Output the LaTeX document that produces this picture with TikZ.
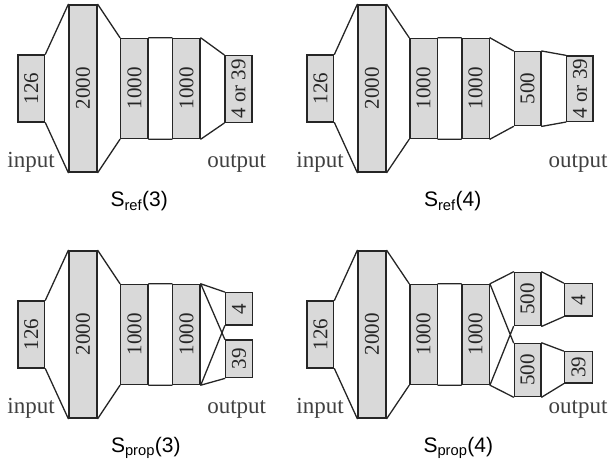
\documentclass[tikz,border=0pt]{standalone}
\usepackage{fontspec}
\setmainfont{Liberation Serif}
\newfontfamily\capfont{Liberation Sans}
\begin{document}
\begin{tikzpicture}[x=1pt,y=-1pt,
  layer/.style={draw=black!85, fill=gray!30, line width=1.4pt, inner sep=0pt, text=black!85, font=\fontsize{21}{21}\selectfont},
  sz/.style 2 args={minimum width=#1, minimum height=#2},
  conn/.style={draw=black!85, line width=1.3pt, line cap=round},
  lbl/.style={anchor=base, inner sep=0pt, text=black!75, font=\fontsize{23}{23}\selectfont},
  captxt/.style={anchor=base, inner sep=0pt, text=black, font=\capfont\fontsize{21}{21}\selectfont}]
\useasboundingbox (0,0) rectangle (611,462);

% ---------- Panel 1: S_ref(3)
\node[layer, sz={26.7}{67}]   (a0) at (31.3,88.5)  {\rotatebox{90}{126}};
\node[layer, sz={28}{167}]    (a1) at (83,88.5)    {\rotatebox{90}{2000}};
\node[layer, sz={27.3}{100}]  (a2) at (134.4,88.5) {\rotatebox{90}{1000}};
\node[layer, sz={27.3}{100}]  (a3) at (186.4,88.5) {\rotatebox{90}{1000}};
\node[layer, sz={27}{66.7}]   (a4) at (238.5,89)   {\rotatebox{90}{4 or 39}};
\draw[conn] (a0.north east) -- (a1.north west) (a0.south east) -- (a1.south west)
            (a1.north east) -- (a2.north west) (a1.south east) -- (a2.south west)
            (a2.north east) -- (a3.north west) (a2.south east) -- (a3.south west)
            (a3.north east) -- (a4.north west) (a3.south east) -- (a4.south west);
\node[lbl] (ain)  at (31,168)    {input};
\node[lbl] (aout) at (236.7,168) {output};
\node[captxt] (acap) at (139.2,206.7) {S\textsubscript{ref}(3)};

% ---------- Panel 2: S_ref(4)
\node[layer, sz={26.7}{67}]   (b0) at (320.4,88.5) {\rotatebox{90}{126}};
\node[layer, sz={28}{167}]    (b1) at (372,88.5)   {\rotatebox{90}{2000}};
\node[layer, sz={27.3}{100}]  (b2) at (423.6,88.5) {\rotatebox{90}{1000}};
\node[layer, sz={27.3}{100}]  (b3) at (475.6,88.5) {\rotatebox{90}{1000}};
\node[layer, sz={26.7}{74}]   (b4) at (527.6,88.7) {\rotatebox{90}{500}};
\node[layer, sz={26.5}{65.3}] (b5) at (579.9,88.7) {\rotatebox{90}{4 or 39}};
\draw[conn] (b0.north east) -- (b1.north west) (b0.south east) -- (b1.south west)
            (b1.north east) -- (b2.north west) (b1.south east) -- (b2.south west)
            (b2.north east) -- (b3.north west) (b2.south east) -- (b3.south west)
            (b3.north east) -- (b4.north west) (b3.south east) -- (b4.south west)
            (b4.north east) -- (b5.north west) (b4.south east) -- (b5.south west);
\node[lbl] (bin)  at (320,168) {input};
\node[lbl] (bout) at (578,168) {output};
\node[captxt] (bcap) at (452.7,206.7) {S\textsubscript{ref}(4)};

% ---------- Panel 3: S_prop(3)
\node[layer, sz={26.7}{67}]   (c0) at (31.3,334.5)  {\rotatebox{90}{126}};
\node[layer, sz={28}{167}]    (c1) at (83,334.5)    {\rotatebox{90}{2000}};
\node[layer, sz={27.3}{100}]  (c2) at (134.4,334.5) {\rotatebox{90}{1000}};
\node[layer, sz={27.3}{100}]  (c3) at (186.4,334.5) {\rotatebox{90}{1000}};
\node[layer, sz={27}{32.3}]   (c4) at (239,308.9)   {\rotatebox{90}{4}};
\node[layer, sz={27}{37.7}]   (c5) at (239,358.9)   {\rotatebox{90}{39}};
\draw[conn] (c0.north east) -- (c1.north west) (c0.south east) -- (c1.south west)
            (c1.north east) -- (c2.north west) (c1.south east) -- (c2.south west)
            (c2.north east) -- (c3.north west) (c2.south east) -- (c3.south west)
            (c3.north east) -- (c4.north west) (c3.north east) -- (c5.north west)
            (c3.south east) -- (c4.south west) (c3.south east) -- (c5.south west);
\node[lbl] (cin)  at (31,414)    {input};
\node[lbl] (cout) at (236.7,414) {output};
\node[captxt] (ccap) at (145.8,452.7) {S\textsubscript{prop}(3)};

% ---------- Panel 4: S_prop(4)
\node[layer, sz={26.7}{67}]   (d0) at (320.4,334.5) {\rotatebox{90}{126}};
\node[layer, sz={28}{167}]    (d1) at (372,334.5)   {\rotatebox{90}{2000}};
\node[layer, sz={27.3}{100}]  (d2) at (423.6,334.5) {\rotatebox{90}{1000}};
\node[layer, sz={27.3}{100}]  (d3) at (475.6,334.5) {\rotatebox{90}{1000}};
\node[layer, sz={26.7}{53.2}] (d4) at (527.6,299.1) {\rotatebox{90}{500}};
\node[layer, sz={26.7}{53}]   (d5) at (527.6,370)   {\rotatebox{90}{500}};
\node[layer, sz={28}{32.2}]   (d6) at (578.4,299.9) {\rotatebox{90}{4}};
\node[layer, sz={28}{31.2}]   (d7) at (578.4,367.4) {\rotatebox{90}{39}};
\draw[conn] (d0.north east) -- (d1.north west) (d0.south east) -- (d1.south west)
            (d1.north east) -- (d2.north west) (d1.south east) -- (d2.south west)
            (d2.north east) -- (d3.north west) (d2.south east) -- (d3.south west)
            (d3.north east) -- (d4.north west) (d3.north east) -- (d5.north west)
            (d3.south east) -- (d4.south west) (d3.south east) -- (d5.south west)
            (d4.north east) -- (d6.north west) (d4.south east) -- (d6.south west)
            (d5.north east) -- (d7.north west) (d5.south east) -- (d7.south west);
\node[lbl] (din)  at (320,414) {input};
\node[lbl] (dout) at (578,414) {output};
\node[captxt] (dcap) at (458.3,452.7) {S\textsubscript{prop}(4)};
\end{tikzpicture}
\end{document}
